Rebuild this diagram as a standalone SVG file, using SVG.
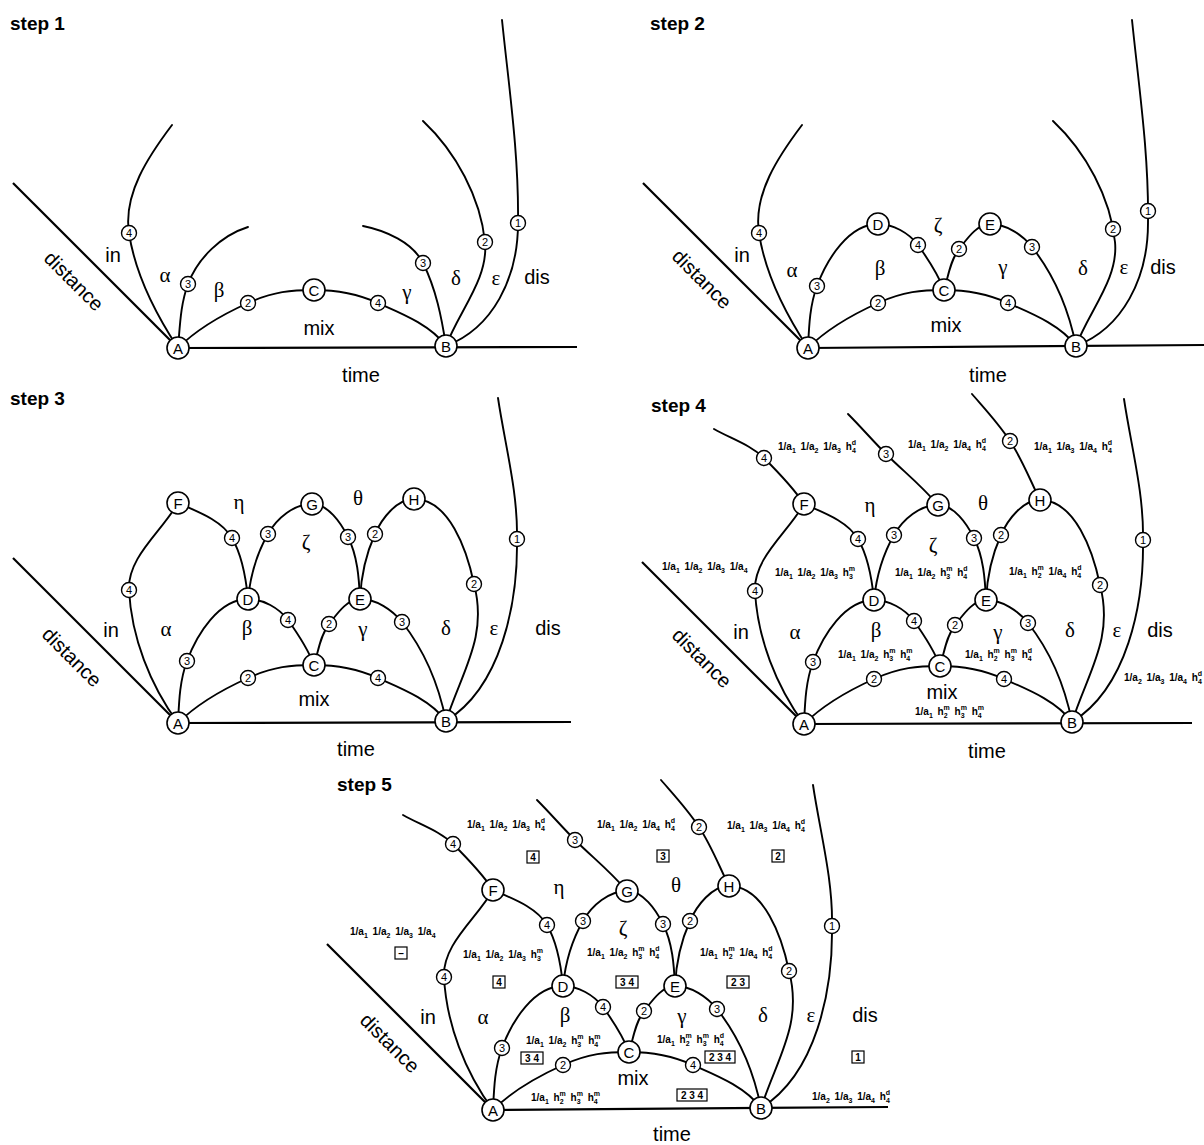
<svg xmlns="http://www.w3.org/2000/svg" width="1204" height="1145" viewBox="0 0 1204 1145">
<defs>
<style>
.ln{fill:none;stroke:#000;stroke-width:1.9;stroke-linecap:round}
.ax{fill:none;stroke:#000;stroke-width:2.2}
.N circle{fill:#fff;stroke:#000;stroke-width:1.6}
.N text{font-family:"Liberation Sans",Arial,sans-serif;font-size:15px;text-anchor:middle;dominant-baseline:central}
.n circle{fill:#fff;stroke:#000;stroke-width:1.4}
.n text{font-family:"Liberation Sans",Arial,sans-serif;font-size:11px;text-anchor:middle;dominant-baseline:central}
.lb{font-family:"Liberation Sans",Arial,sans-serif;font-size:20px;text-anchor:middle;dominant-baseline:central}
.gk{font-family:"Liberation Serif","Times New Roman",serif;font-size:21px;text-anchor:middle;dominant-baseline:central}
.ttl{font-family:"Liberation Sans",Arial,sans-serif;font-size:19px;font-weight:bold}
.f{font-family:"Liberation Sans",Arial,sans-serif;font-size:10px;font-weight:bold;word-spacing:2px}
.f .b{font-size:7px}
.bx rect{fill:#fff;stroke:#000;stroke-width:1.2}
.bx text{font-family:"Liberation Sans",Arial,sans-serif;font-size:10px;font-weight:bold;text-anchor:middle;dominant-baseline:central}
</style>
</defs>
<rect width="1204" height="1145" fill="#fff"/>
<text class="ttl" x="10" y="30">step 1</text>
<text class="ttl" x="650" y="30">step 2</text>
<text class="ttl" x="10" y="405">step 3</text>
<text class="ttl" x="651" y="412">step 4</text>
<text class="ttl" x="337" y="791">step 5</text>

<!-- STEP 1 -->
<g id="step1" transform="translate(178,348)">
<g id="s1-connectors">
<line class="ax" x1="-165" y1="-165" x2="0" y2="0"/>
<line class="ax" x1="0" y1="0" x2="399" y2="-1"/>
<path class="ln" d="M0,0 C-23,-35 -42.7,-73 -49,-115 C-55,-154 -29.4,-192 -6,-223"/>
<path class="ln" d="M0,0 C2,-22 2.3,-43 10,-64 C19.8,-90 43.4,-112.6 70,-121"/>
<path class="ln" d="M0,0 C20,-20 44.5,-33.5 70,-45 S114,-58 136,-58 S180,-54 200,-45 S252,-24 268,-2"/>
<path class="ln" d="M185,-122 C207.5,-117.5 234.6,-105.7 245,-85 C258,-59 263.6,-30.7 268,-2"/>
<path class="ln" d="M245,-227 C278,-196 302.5,-150.5 307,-106 C310.7,-69.4 281,-36.8 268,-2"/>
<path class="ln" d="M268,-2 C315,-20 340,-70 340,-125 C341,-193 331,-260 324,-328"/>
</g>
<g id="s1-in4" class="n" transform="translate(-49,-115)"><circle r="7.5"/><text>4</text></g>
<g id="s1-b3" class="n" transform="translate(10,-64)"><circle r="7.5"/><text>3</text></g>
<g id="s1-m2" class="n" transform="translate(70,-45)"><circle r="7.5"/><text>2</text></g>
<g id="s1-m4" class="n" transform="translate(200,-45)"><circle r="7.5"/><text>4</text></g>
<g id="s1-g3" class="n" transform="translate(245,-85)"><circle r="7.5"/><text>3</text></g>
<g id="s1-d2" class="n" transform="translate(307,-106)"><circle r="7.5"/><text>2</text></g>
<g id="s1-dis1" class="n" transform="translate(340,-125)"><circle r="7.5"/><text>1</text></g>
<g id="s1-A" class="N"><circle r="11"/><text>A</text></g>
<g id="s1-B" class="N" transform="translate(268,-2)"><circle r="11"/><text>B</text></g>
<g id="s1-C" class="N" transform="translate(136,-58)"><circle r="11"/><text>C</text></g>
<text class="lb" transform="translate(-104,-67) rotate(45)">distance</text>
<text class="lb" x="-65" y="-93">in</text>
<text class="gk" x="-13" y="-73">α</text>
<text class="gk" x="41" y="-58">β</text>
<text class="gk" x="229" y="-56">γ</text>
<text class="gk" x="278" y="-70">δ</text>
<text class="gk" x="318" y="-70">ε</text>
<text class="lb" x="359" y="-71">dis</text>
<text class="lb" x="141" y="-20">mix</text>
<text class="lb" x="183" y="27">time</text>
</g>

<!-- STEP 2 -->
<g id="step2" transform="translate(808,348)">
<g id="s2-connectors">
<line class="ax" x1="-165" y1="-165" x2="0" y2="0"/>
<line class="ax" x1="0" y1="0" x2="396" y2="-3"/>
<path class="ln" d="M0,0 C-23,-35 -42.7,-73 -49,-115 C-55,-154 -29.4,-192 -6,-223"/>
<path class="ln" d="M0,0 C1,-21 1.6,-42 9,-62 C19,-89 41,-124 70,-124 C85,-124 101,-115 110,-103 C120,-89 130,-74 136,-58"/>
<path class="ln" d="M136,-58 C140.5,-72 142,-87 151,-99 C159,-109 169,-124 182,-124 C198,-124 214,-113.5 224,-101 C246,-73 261,-37 268,-2"/>
<path class="ln" d="M0,0 C20,-20 44.5,-33.5 70,-45 S114,-58 136,-58 S180,-54 200,-45 S252,-24 268,-2"/>
<path class="ln" d="M245,-227 C278,-196 302.5,-150.5 307,-106 C310.7,-69.4 281,-36.8 268,-2"/>
<path class="ln" d="M268,-2 C315,-20 340,-70 340,-125 C341,-193 331,-260 324,-328"/>
</g>
<g id="s2-in4" class="n" transform="translate(-49,-115)"><circle r="7.5"/><text>4</text></g>
<g id="s2-l3" class="n" transform="translate(9,-62)"><circle r="7.5"/><text>3</text></g>
<g id="s2-d4" class="n" transform="translate(110,-103)"><circle r="7.5"/><text>4</text></g>
<g id="s2-e2" class="n" transform="translate(151,-99)"><circle r="7.5"/><text>2</text></g>
<g id="s2-r3" class="n" transform="translate(224,-101)"><circle r="7.5"/><text>3</text></g>
<g id="s2-m2" class="n" transform="translate(70,-45)"><circle r="7.5"/><text>2</text></g>
<g id="s2-m4" class="n" transform="translate(200,-45)"><circle r="7.5"/><text>4</text></g>
<g id="s2-d2" class="n" transform="translate(305,-119)"><circle r="7.5"/><text>2</text></g>
<g id="s2-dis1" class="n" transform="translate(340,-137)"><circle r="7.5"/><text>1</text></g>
<g id="s2-A" class="N"><circle r="11"/><text>A</text></g>
<g id="s2-B" class="N" transform="translate(268,-2)"><circle r="11"/><text>B</text></g>
<g id="s2-C" class="N" transform="translate(136,-58)"><circle r="11"/><text>C</text></g>
<g id="s2-D" class="N" transform="translate(70,-124)"><circle r="11"/><text>D</text></g>
<g id="s2-E" class="N" transform="translate(182,-124)"><circle r="11"/><text>E</text></g>
<text class="lb" transform="translate(-106,-69) rotate(45)">distance</text>
<text class="lb" x="-66" y="-93">in</text>
<text class="gk" x="-16" y="-78">α</text>
<text class="gk" x="72" y="-80">β</text>
<text class="gk" x="130" y="-123">ζ</text>
<text class="gk" x="195" y="-81">γ</text>
<text class="gk" x="275" y="-80">δ</text>
<text class="gk" x="316" y="-81">ε</text>
<text class="lb" x="355" y="-81">dis</text>
<text class="lb" x="138" y="-23">mix</text>
<text class="lb" x="180" y="27">time</text>
</g>

<!-- STEP 3 -->
<g id="step3" transform="translate(178,723)">
<g id="s3-connectors">
<line class="ax" x1="-165" y1="-165" x2="0" y2="0"/>
<line class="ax" x1="0" y1="0" x2="393" y2="-1"/>
<path class="ln" d="M0,0 C-28,-38 -46.6,-86 -49,-133 C-50.6,-166 -16.5,-191 0,-220"/>
<path class="ln" d="M0,-220 C19,-211.6 43.5,-203 54,-185 C64.5,-167 68,-145 70,-124"/>
<path class="ln" d="M70,-124 C72.3,-147 78.5,-169 90,-189 C99,-205 116,-219 134,-219 C150,-219 162.8,-200.4 170,-186 C179.5,-167 181,-145 182,-124"/>
<path class="ln" d="M182,-124 C183,-146 188,-169 197,-189 C204,-205 219,-224 236,-224 C271,-224 289,-173 296,-139 C310,-86 284,-52 268,-2"/>
<path class="ln" d="M0,0 C1,-21 1.6,-42 9,-62 C19,-89 41,-124 70,-124 C85,-124 101,-115 110,-103 C120,-89 130,-74 136,-58"/>
<path class="ln" d="M136,-58 C140.5,-72 142,-87 151,-99 C159,-109 169,-124 182,-124 C198,-124 214,-113.5 224,-101 C246,-73 261,-37 268,-2"/>
<path class="ln" d="M0,0 C20,-20 44.5,-33.5 70,-45 S114,-58 136,-58 S180,-54 200,-45 S252,-24 268,-2"/>
<path class="ln" d="M268,-2 C323,-36 340,-119 339,-184 C340,-231 327,-278 320,-325"/>
</g>
<g id="s3-in4" class="n" transform="translate(-49,-133)"><circle r="7.5"/><text>4</text></g>
<g id="s3-f4" class="n" transform="translate(54,-185)"><circle r="7.5"/><text>4</text></g>
<g id="s3-g3l" class="n" transform="translate(90,-189)"><circle r="7.5"/><text>3</text></g>
<g id="s3-g3r" class="n" transform="translate(170,-186)"><circle r="7.5"/><text>3</text></g>
<g id="s3-h2l" class="n" transform="translate(197,-189)"><circle r="7.5"/><text>2</text></g>
<g id="s3-h2r" class="n" transform="translate(296,-139)"><circle r="7.5"/><text>2</text></g>
<g id="s3-l3" class="n" transform="translate(9,-62)"><circle r="7.5"/><text>3</text></g>
<g id="s3-d4" class="n" transform="translate(110,-103)"><circle r="7.5"/><text>4</text></g>
<g id="s3-e2" class="n" transform="translate(151,-99)"><circle r="7.5"/><text>2</text></g>
<g id="s3-r3" class="n" transform="translate(224,-101)"><circle r="7.5"/><text>3</text></g>
<g id="s3-m2" class="n" transform="translate(70,-45)"><circle r="7.5"/><text>2</text></g>
<g id="s3-m4" class="n" transform="translate(200,-45)"><circle r="7.5"/><text>4</text></g>
<g id="s3-dis1" class="n" transform="translate(339,-184)"><circle r="7.5"/><text>1</text></g>
<g id="s3-A" class="N"><circle r="11"/><text>A</text></g>
<g id="s3-B" class="N" transform="translate(268,-2)"><circle r="11"/><text>B</text></g>
<g id="s3-C" class="N" transform="translate(136,-58)"><circle r="11"/><text>C</text></g>
<g id="s3-D" class="N" transform="translate(70,-124)"><circle r="11"/><text>D</text></g>
<g id="s3-E" class="N" transform="translate(182,-124)"><circle r="11"/><text>E</text></g>
<g id="s3-F" class="N" transform="translate(0,-220)"><circle r="11"/><text>F</text></g>
<g id="s3-G" class="N" transform="translate(134,-219)"><circle r="11"/><text>G</text></g>
<g id="s3-H" class="N" transform="translate(236,-224)"><circle r="11"/><text>H</text></g>
<text class="lb" transform="translate(-106,-66) rotate(45)">distance</text>
<text class="lb" x="-67" y="-93">in</text>
<text class="gk" x="-12" y="-94">α</text>
<text class="gk" x="69" y="-95">β</text>
<text class="gk" x="185" y="-94">γ</text>
<text class="gk" x="268" y="-95">δ</text>
<text class="gk" x="316" y="-95">ε</text>
<text class="lb" x="370" y="-95">dis</text>
<text class="gk" x="61" y="-221">η</text>
<text class="gk" x="180" y="-225">θ</text>
<text class="gk" x="128" y="-181">ζ</text>
<text class="lb" x="136" y="-24">mix</text>
<text class="lb" x="178" y="26">time</text>
</g>

<!-- STEP 4 -->
<g id="step4" transform="translate(804,724)">
<g id="s4-connectors">
<line class="ax" x1="-162" y1="-162" x2="0" y2="0"/>
<line class="ax" x1="0" y1="0" x2="388" y2="-1"/>
<path class="ln" d="M0,0 C-28,-38 -46.6,-86 -49,-133 C-50.6,-166 -16.5,-191 0,-220"/>
<path class="ln" d="M0,-220 C19,-211.6 43.5,-203 54,-185 C64.5,-167 68,-145 70,-124"/>
<path class="ln" d="M70,-124 C72.3,-147 78.5,-169 90,-189 C99,-205 116,-219 134,-219 C150,-219 162.8,-200.4 170,-186 C179.5,-167 181,-145 182,-124"/>
<path class="ln" d="M182,-124 C183,-146 188,-169 197,-189 C204,-205 219,-224 236,-224 C271,-224 289,-173 296,-139 C310,-86 284,-52 268,-2"/>
<path class="ln" d="M0,0 C1,-21 1.6,-42 9,-62 C19,-89 41,-124 70,-124 C85,-124 101,-115 110,-103 C120,-89 130,-74 136,-58"/>
<path class="ln" d="M136,-58 C140.5,-72 142,-87 151,-99 C159,-109 169,-124 182,-124 C198,-124 214,-113.5 224,-101 C246,-73 261,-37 268,-2"/>
<path class="ln" d="M0,0 C20,-20 44.5,-33.5 70,-45 S114,-58 136,-58 S180,-54 200,-45 S252,-24 268,-2"/>
<path class="ln" d="M268,-2 C323,-36 340,-119 339,-184 C340,-231 327,-278 320,-325"/>
<path class="ln" d="M0,-220 C-11,-237 -26,-252 -40,-266 C-53,-279 -73.5,-285.5 -90,-295"/>
<path class="ln" d="M134,-219 C116,-240 99,-253 82,-270 C69,-283 57,-297 44,-310"/>
<path class="ln" d="M236,-224 C226,-244 218,-265 206,-283 C195,-300 181,-315 168,-330"/>
</g>
<g id="s4-fu4" class="n" transform="translate(-40,-266)"><circle r="7.5"/><text>4</text></g>
<g id="s4-gu3" class="n" transform="translate(82,-270)"><circle r="7.5"/><text>3</text></g>
<g id="s4-hu2" class="n" transform="translate(206,-283)"><circle r="7.5"/><text>2</text></g>
<g id="s4-in4" class="n" transform="translate(-49,-133)"><circle r="7.5"/><text>4</text></g>
<g id="s4-f4" class="n" transform="translate(54,-185)"><circle r="7.5"/><text>4</text></g>
<g id="s4-g3l" class="n" transform="translate(90,-189)"><circle r="7.5"/><text>3</text></g>
<g id="s4-g3r" class="n" transform="translate(170,-186)"><circle r="7.5"/><text>3</text></g>
<g id="s4-h2l" class="n" transform="translate(197,-189)"><circle r="7.5"/><text>2</text></g>
<g id="s4-h2r" class="n" transform="translate(296,-139)"><circle r="7.5"/><text>2</text></g>
<g id="s4-l3" class="n" transform="translate(9,-62)"><circle r="7.5"/><text>3</text></g>
<g id="s4-d4" class="n" transform="translate(110,-103)"><circle r="7.5"/><text>4</text></g>
<g id="s4-e2" class="n" transform="translate(151,-99)"><circle r="7.5"/><text>2</text></g>
<g id="s4-r3" class="n" transform="translate(224,-101)"><circle r="7.5"/><text>3</text></g>
<g id="s4-m2" class="n" transform="translate(70,-45)"><circle r="7.5"/><text>2</text></g>
<g id="s4-m4" class="n" transform="translate(200,-45)"><circle r="7.5"/><text>4</text></g>
<g id="s4-dis1" class="n" transform="translate(339,-184)"><circle r="7.5"/><text>1</text></g>
<g id="s4-A" class="N"><circle r="11"/><text>A</text></g>
<g id="s4-B" class="N" transform="translate(268,-2)"><circle r="11"/><text>B</text></g>
<g id="s4-C" class="N" transform="translate(136,-58)"><circle r="11"/><text>C</text></g>
<g id="s4-D" class="N" transform="translate(70,-124)"><circle r="11"/><text>D</text></g>
<g id="s4-E" class="N" transform="translate(182,-124)"><circle r="11"/><text>E</text></g>
<g id="s4-F" class="N" transform="translate(0,-220)"><circle r="11"/><text>F</text></g>
<g id="s4-G" class="N" transform="translate(134,-219)"><circle r="11"/><text>G</text></g>
<g id="s4-H" class="N" transform="translate(236,-224)"><circle r="11"/><text>H</text></g>
<text class="lb" transform="translate(-102,-66) rotate(45)">distance</text>
<text class="lb" x="-63" y="-92">in</text>
<text class="gk" x="-9" y="-92">α</text>
<text class="gk" x="72" y="-94">β</text>
<text class="gk" x="194" y="-92">γ</text>
<text class="gk" x="266" y="-94">δ</text>
<text class="gk" x="313" y="-94">ε</text>
<text class="lb" x="356" y="-94">dis</text>
<text class="gk" x="66" y="-219">η</text>
<text class="gk" x="179" y="-221">θ</text>
<text class="gk" x="129" y="-179">ζ</text>
<text class="lb" x="138" y="-32">mix</text>
<text class="lb" x="183" y="27">time</text>
<text class="f" x="-26" y="-274">1/a<tspan class="b" dy="2.5">1</tspan><tspan dy="-2.5"> 1/a</tspan><tspan class="b" dy="2.5">2</tspan><tspan dy="-2.5"> 1/a</tspan><tspan class="b" dy="2.5">3</tspan><tspan dy="-2.5"> h</tspan><tspan class="b" dy="2.5">4</tspan><tspan class="b" dx="-4" dy="-8">d</tspan></text>
<text class="f" x="104" y="-276">1/a<tspan class="b" dy="2.5">1</tspan><tspan dy="-2.5"> 1/a</tspan><tspan class="b" dy="2.5">2</tspan><tspan dy="-2.5"> 1/a</tspan><tspan class="b" dy="2.5">4</tspan><tspan dy="-2.5"> h</tspan><tspan class="b" dy="2.5">4</tspan><tspan class="b" dx="-4" dy="-8">d</tspan></text>
<text class="f" x="230" y="-274">1/a<tspan class="b" dy="2.5">1</tspan><tspan dy="-2.5"> 1/a</tspan><tspan class="b" dy="2.5">3</tspan><tspan dy="-2.5"> 1/a</tspan><tspan class="b" dy="2.5">4</tspan><tspan dy="-2.5"> h</tspan><tspan class="b" dy="2.5">4</tspan><tspan class="b" dx="-4" dy="-8">d</tspan></text>
<text class="f" x="-142" y="-154">1/a<tspan class="b" dy="2.5">1</tspan><tspan dy="-2.5"> 1/a</tspan><tspan class="b" dy="2.5">2</tspan><tspan dy="-2.5"> 1/a</tspan><tspan class="b" dy="2.5">3</tspan><tspan dy="-2.5"> 1/a</tspan><tspan class="b" dy="2.5">4</tspan></text>
<text class="f" x="-29" y="-148">1/a<tspan class="b" dy="2.5">1</tspan><tspan dy="-2.5"> 1/a</tspan><tspan class="b" dy="2.5">2</tspan><tspan dy="-2.5"> 1/a</tspan><tspan class="b" dy="2.5">3</tspan><tspan dy="-2.5"> h</tspan><tspan class="b" dy="2.5">3</tspan><tspan class="b" dx="-4" dy="-8">m</tspan></text>
<text class="f" x="91" y="-148">1/a<tspan class="b" dy="2.5">1</tspan><tspan dy="-2.5"> 1/a</tspan><tspan class="b" dy="2.5">2</tspan><tspan dy="-2.5"> h</tspan><tspan class="b" dy="2.5">3</tspan><tspan class="b" dx="-4" dy="-8">m</tspan><tspan dy="5.5"> h</tspan><tspan class="b" dy="2.5">4</tspan><tspan class="b" dx="-4" dy="-8">d</tspan></text>
<text class="f" x="205" y="-149">1/a<tspan class="b" dy="2.5">1</tspan><tspan dy="-2.5"> h</tspan><tspan class="b" dy="2.5">2</tspan><tspan class="b" dx="-4" dy="-8">m</tspan><tspan dy="5.5"> 1/a</tspan><tspan class="b" dy="2.5">4</tspan><tspan dy="-2.5"> h</tspan><tspan class="b" dy="2.5">4</tspan><tspan class="b" dx="-4" dy="-8">d</tspan></text>
<text class="f" x="34" y="-66">1/a<tspan class="b" dy="2.5">1</tspan><tspan dy="-2.5"> 1/a</tspan><tspan class="b" dy="2.5">2</tspan><tspan dy="-2.5"> h</tspan><tspan class="b" dy="2.5">3</tspan><tspan class="b" dx="-4" dy="-8">m</tspan><tspan dy="5.5"> h</tspan><tspan class="b" dy="2.5">4</tspan><tspan class="b" dx="-4" dy="-8">m</tspan></text>
<text class="f" x="161" y="-66">1/a<tspan class="b" dy="2.5">1</tspan><tspan dy="-2.5"> h</tspan><tspan class="b" dy="2.5">2</tspan><tspan class="b" dx="-4" dy="-8">m</tspan><tspan dy="5.5"> h</tspan><tspan class="b" dy="2.5">3</tspan><tspan class="b" dx="-4" dy="-8">m</tspan><tspan dy="5.5"> h</tspan><tspan class="b" dy="2.5">4</tspan><tspan class="b" dx="-4" dy="-8">d</tspan></text>
<text class="f" x="320" y="-43">1/a<tspan class="b" dy="2.5">2</tspan><tspan dy="-2.5"> 1/a</tspan><tspan class="b" dy="2.5">3</tspan><tspan dy="-2.5"> 1/a</tspan><tspan class="b" dy="2.5">4</tspan><tspan dy="-2.5"> h</tspan><tspan class="b" dy="2.5">4</tspan><tspan class="b" dx="-4" dy="-8">d</tspan></text>
<text class="f" x="111" y="-9">1/a<tspan class="b" dy="2.5">1</tspan><tspan dy="-2.5"> h</tspan><tspan class="b" dy="2.5">2</tspan><tspan class="b" dx="-4" dy="-8">m</tspan><tspan dy="5.5"> h</tspan><tspan class="b" dy="2.5">3</tspan><tspan class="b" dx="-4" dy="-8">m</tspan><tspan dy="5.5"> h</tspan><tspan class="b" dy="2.5">4</tspan><tspan class="b" dx="-4" dy="-8">m</tspan></text>
</g>

<!-- STEP 5 -->
<g id="step5" transform="translate(493,1110)">
<g id="s5-connectors">
<line class="ax" x1="-166" y1="-166" x2="0" y2="0"/>
<line class="ax" x1="0" y1="0" x2="395" y2="-3"/>
<path class="ln" d="M0,0 C-28,-38 -46.6,-86 -49,-133 C-50.6,-166 -16.5,-191 0,-220"/>
<path class="ln" d="M0,-220 C19,-211.6 43.5,-203 54,-185 C64.5,-167 68,-145 70,-124"/>
<path class="ln" d="M70,-124 C72.3,-147 78.5,-169 90,-189 C99,-205 116,-219 134,-219 C150,-219 162.8,-200.4 170,-186 C179.5,-167 181,-145 182,-124"/>
<path class="ln" d="M182,-124 C183,-146 188,-169 197,-189 C204,-205 219,-224 236,-224 C271,-224 289,-173 296,-139 C310,-86 284,-52 268,-2"/>
<path class="ln" d="M0,0 C1,-21 1.6,-42 9,-62 C19,-89 41,-124 70,-124 C85,-124 101,-115 110,-103 C120,-89 130,-74 136,-58"/>
<path class="ln" d="M136,-58 C140.5,-72 142,-87 151,-99 C159,-109 169,-124 182,-124 C198,-124 214,-113.5 224,-101 C246,-73 261,-37 268,-2"/>
<path class="ln" d="M0,0 C20,-20 44.5,-33.5 70,-45 S114,-58 136,-58 S180,-54 200,-45 S252,-24 268,-2"/>
<path class="ln" d="M268,-2 C323,-36 340,-119 339,-184 C340,-231 327,-278 320,-325"/>
<path class="ln" d="M0,-220 C-11,-237 -26,-252 -40,-266 C-53,-279 -73.5,-285.5 -90,-295"/>
<path class="ln" d="M134,-219 C116,-240 99,-253 82,-270 C69,-283 57,-297 44,-310"/>
<path class="ln" d="M236,-224 C226,-244 218,-265 206,-283 C195,-300 181,-315 168,-330"/>
</g>
<g id="s5-fu4" class="n" transform="translate(-40,-266)"><circle r="7.5"/><text>4</text></g>
<g id="s5-gu3" class="n" transform="translate(82,-270)"><circle r="7.5"/><text>3</text></g>
<g id="s5-hu2" class="n" transform="translate(206,-283)"><circle r="7.5"/><text>2</text></g>
<g id="s5-in4" class="n" transform="translate(-49,-133)"><circle r="7.5"/><text>4</text></g>
<g id="s5-f4" class="n" transform="translate(54,-185)"><circle r="7.5"/><text>4</text></g>
<g id="s5-g3l" class="n" transform="translate(90,-189)"><circle r="7.5"/><text>3</text></g>
<g id="s5-g3r" class="n" transform="translate(170,-186)"><circle r="7.5"/><text>3</text></g>
<g id="s5-h2l" class="n" transform="translate(197,-189)"><circle r="7.5"/><text>2</text></g>
<g id="s5-h2r" class="n" transform="translate(296,-139)"><circle r="7.5"/><text>2</text></g>
<g id="s5-l3" class="n" transform="translate(9,-62)"><circle r="7.5"/><text>3</text></g>
<g id="s5-d4" class="n" transform="translate(110,-103)"><circle r="7.5"/><text>4</text></g>
<g id="s5-e2" class="n" transform="translate(151,-99)"><circle r="7.5"/><text>2</text></g>
<g id="s5-r3" class="n" transform="translate(224,-101)"><circle r="7.5"/><text>3</text></g>
<g id="s5-m2" class="n" transform="translate(70,-45)"><circle r="7.5"/><text>2</text></g>
<g id="s5-m4" class="n" transform="translate(200,-45)"><circle r="7.5"/><text>4</text></g>
<g id="s5-dis1" class="n" transform="translate(339,-184)"><circle r="7.5"/><text>1</text></g>
<g id="s5-A" class="N"><circle r="11"/><text>A</text></g>
<g id="s5-B" class="N" transform="translate(268,-2)"><circle r="11"/><text>B</text></g>
<g id="s5-C" class="N" transform="translate(136,-58)"><circle r="11"/><text>C</text></g>
<g id="s5-D" class="N" transform="translate(70,-124)"><circle r="11"/><text>D</text></g>
<g id="s5-E" class="N" transform="translate(182,-124)"><circle r="11"/><text>E</text></g>
<g id="s5-F" class="N" transform="translate(0,-220)"><circle r="11"/><text>F</text></g>
<g id="s5-G" class="N" transform="translate(134,-219)"><circle r="11"/><text>G</text></g>
<g id="s5-H" class="N" transform="translate(236,-224)"><circle r="11"/><text>H</text></g>
<text class="lb" transform="translate(-103,-67) rotate(45)">distance</text>
<text class="lb" x="-65" y="-93">in</text>
<text class="gk" x="-10" y="-93">α</text>
<text class="gk" x="72" y="-95">β</text>
<text class="gk" x="189" y="-94">γ</text>
<text class="gk" x="270" y="-95">δ</text>
<text class="gk" x="318" y="-95">ε</text>
<text class="lb" x="372" y="-95">dis</text>
<text class="gk" x="66" y="-223">η</text>
<text class="gk" x="183" y="-225">θ</text>
<text class="gk" x="130" y="-182">ζ</text>
<text class="lb" x="140" y="-32">mix</text>
<text class="lb" x="179" y="24">time</text>
<text class="f" x="-26" y="-282">1/a<tspan class="b" dy="2.5">1</tspan><tspan dy="-2.5"> 1/a</tspan><tspan class="b" dy="2.5">2</tspan><tspan dy="-2.5"> 1/a</tspan><tspan class="b" dy="2.5">3</tspan><tspan dy="-2.5"> h</tspan><tspan class="b" dy="2.5">4</tspan><tspan class="b" dx="-4" dy="-8">d</tspan></text>
<text class="f" x="104" y="-282">1/a<tspan class="b" dy="2.5">1</tspan><tspan dy="-2.5"> 1/a</tspan><tspan class="b" dy="2.5">2</tspan><tspan dy="-2.5"> 1/a</tspan><tspan class="b" dy="2.5">4</tspan><tspan dy="-2.5"> h</tspan><tspan class="b" dy="2.5">4</tspan><tspan class="b" dx="-4" dy="-8">d</tspan></text>
<text class="f" x="234" y="-281">1/a<tspan class="b" dy="2.5">1</tspan><tspan dy="-2.5"> 1/a</tspan><tspan class="b" dy="2.5">3</tspan><tspan dy="-2.5"> 1/a</tspan><tspan class="b" dy="2.5">4</tspan><tspan dy="-2.5"> h</tspan><tspan class="b" dy="2.5">4</tspan><tspan class="b" dx="-4" dy="-8">d</tspan></text>
<text class="f" x="-143" y="-175">1/a<tspan class="b" dy="2.5">1</tspan><tspan dy="-2.5"> 1/a</tspan><tspan class="b" dy="2.5">2</tspan><tspan dy="-2.5"> 1/a</tspan><tspan class="b" dy="2.5">3</tspan><tspan dy="-2.5"> 1/a</tspan><tspan class="b" dy="2.5">4</tspan></text>
<text class="f" x="-30" y="-152">1/a<tspan class="b" dy="2.5">1</tspan><tspan dy="-2.5"> 1/a</tspan><tspan class="b" dy="2.5">2</tspan><tspan dy="-2.5"> 1/a</tspan><tspan class="b" dy="2.5">3</tspan><tspan dy="-2.5"> h</tspan><tspan class="b" dy="2.5">3</tspan><tspan class="b" dx="-4" dy="-8">m</tspan></text>
<text class="f" x="94" y="-154">1/a<tspan class="b" dy="2.5">1</tspan><tspan dy="-2.5"> 1/a</tspan><tspan class="b" dy="2.5">2</tspan><tspan dy="-2.5"> h</tspan><tspan class="b" dy="2.5">3</tspan><tspan class="b" dx="-4" dy="-8">m</tspan><tspan dy="5.5"> h</tspan><tspan class="b" dy="2.5">4</tspan><tspan class="b" dx="-4" dy="-8">d</tspan></text>
<text class="f" x="207" y="-154">1/a<tspan class="b" dy="2.5">1</tspan><tspan dy="-2.5"> h</tspan><tspan class="b" dy="2.5">2</tspan><tspan class="b" dx="-4" dy="-8">m</tspan><tspan dy="5.5"> 1/a</tspan><tspan class="b" dy="2.5">4</tspan><tspan dy="-2.5"> h</tspan><tspan class="b" dy="2.5">4</tspan><tspan class="b" dx="-4" dy="-8">d</tspan></text>
<text class="f" x="33" y="-66">1/a<tspan class="b" dy="2.5">1</tspan><tspan dy="-2.5"> 1/a</tspan><tspan class="b" dy="2.5">2</tspan><tspan dy="-2.5"> h</tspan><tspan class="b" dy="2.5">3</tspan><tspan class="b" dx="-4" dy="-8">m</tspan><tspan dy="5.5"> h</tspan><tspan class="b" dy="2.5">4</tspan><tspan class="b" dx="-4" dy="-8">m</tspan></text>
<text class="f" x="164" y="-67">1/a<tspan class="b" dy="2.5">1</tspan><tspan dy="-2.5"> h</tspan><tspan class="b" dy="2.5">2</tspan><tspan class="b" dx="-4" dy="-8">m</tspan><tspan dy="5.5"> h</tspan><tspan class="b" dy="2.5">3</tspan><tspan class="b" dx="-4" dy="-8">m</tspan><tspan dy="5.5"> h</tspan><tspan class="b" dy="2.5">4</tspan><tspan class="b" dx="-4" dy="-8">d</tspan></text>
<text class="f" x="319" y="-10">1/a<tspan class="b" dy="2.5">2</tspan><tspan dy="-2.5"> 1/a</tspan><tspan class="b" dy="2.5">3</tspan><tspan dy="-2.5"> 1/a</tspan><tspan class="b" dy="2.5">4</tspan><tspan dy="-2.5"> h</tspan><tspan class="b" dy="2.5">4</tspan><tspan class="b" dx="-4" dy="-8">d</tspan></text>
<text class="f" x="38" y="-9">1/a<tspan class="b" dy="2.5">1</tspan><tspan dy="-2.5"> h</tspan><tspan class="b" dy="2.5">2</tspan><tspan class="b" dx="-4" dy="-8">m</tspan><tspan dy="5.5"> h</tspan><tspan class="b" dy="2.5">3</tspan><tspan class="b" dx="-4" dy="-8">m</tspan><tspan dy="5.5"> h</tspan><tspan class="b" dy="2.5">4</tspan><tspan class="b" dx="-4" dy="-8">m</tspan></text>
<g class="bx"><rect x="34" y="-259" width="12" height="12"/><text x="40" y="-253">4</text></g>
<g class="bx"><rect x="164" y="-260" width="12" height="12"/><text x="170" y="-254">3</text></g>
<g class="bx"><rect x="279" y="-260" width="12" height="12"/><text x="285" y="-254">2</text></g>
<g class="bx"><rect x="-98" y="-163" width="12" height="12"/><text x="-92" y="-157">–</text></g>
<g class="bx"><rect x="0" y="-134" width="12" height="12"/><text x="6" y="-128">4</text></g>
<g class="bx"><rect x="123" y="-134" width="22" height="12"/><text x="134" y="-128">3 4</text></g>
<g class="bx"><rect x="234" y="-134" width="22" height="12"/><text x="245" y="-128">2 3</text></g>
<g class="bx"><rect x="28" y="-58" width="22" height="12"/><text x="39" y="-52">3 4</text></g>
<g class="bx"><rect x="212" y="-59" width="30" height="12"/><text x="227" y="-53">2 3 4</text></g>
<g class="bx"><rect x="359" y="-59" width="12" height="12"/><text x="365" y="-53">1</text></g>
<g class="bx"><rect x="184" y="-21" width="30" height="12"/><text x="199" y="-15">2 3 4</text></g>
</g>
</svg>
